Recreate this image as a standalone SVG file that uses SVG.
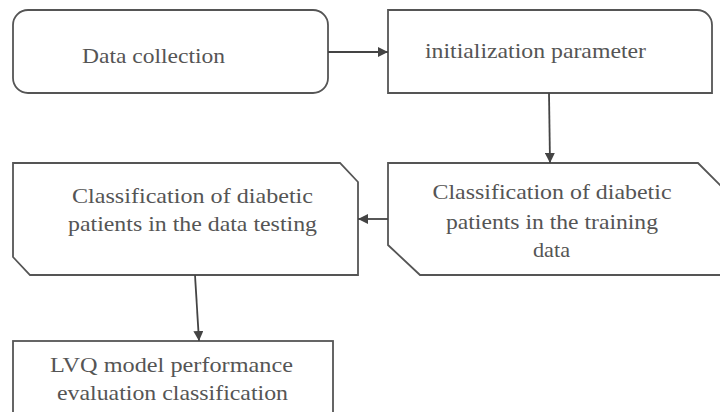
<svg xmlns="http://www.w3.org/2000/svg" width="720" height="412" viewBox="0 0 720 412">
<defs>
<style>
.box{fill:#ffffff;stroke:#555555;stroke-width:1.8}
.t{font-family:'Liberation Serif','DejaVu Serif',serif;font-size:22px;fill:#555555;text-anchor:middle}
.c{fill:none;stroke:#444444;stroke-width:1.8}
</style>
<marker id="ah" viewBox="0 0 10 10" refX="10" refY="5" markerWidth="10" markerHeight="10" markerUnits="userSpaceOnUse" orient="auto">
<path d="M0,0 L10,5 L0,10 Z" fill="#444444"/>
</marker>
</defs>
<rect width="720" height="412" fill="#ffffff"/>
<g id="n1">
<rect class="box" x="13" y="10" width="315" height="83" rx="15" ry="15"/>
<text class="t" font-family="Liberation Serif, serif" x="153.5" y="63" textLength="143" lengthAdjust="spacingAndGlyphs">Data collection</text>
</g>
<g id="n2">
<path class="box" d="M388,10 H697 A15,15 0 0 1 712,25 V93 H388 Z"/>
<text class="t" x="535.5" y="58" textLength="221" lengthAdjust="spacingAndGlyphs">initialization parameter</text>
</g>
<g id="n3">
<path class="box" d="M388,163 H698 L745,210 V275 H420 L388,245 Z"/>
<text class="t" x="552" y="199" textLength="239" lengthAdjust="spacingAndGlyphs">Classification of diabetic</text>
<text class="t" x="552" y="229" textLength="212" lengthAdjust="spacingAndGlyphs">patients in the training</text>
<text class="t" x="551.5" y="257" textLength="37" lengthAdjust="spacingAndGlyphs">data</text>
</g>
<g id="n4">
<path class="box" d="M13,163 H340 L358,182 V275 H30 L13,257 Z"/>
<text class="t" x="192.5" y="203" textLength="241" lengthAdjust="spacingAndGlyphs">Classification of diabetic</text>
<text class="t" x="192.5" y="231" textLength="249" lengthAdjust="spacingAndGlyphs">patients in the data testing</text>
</g>
<g id="n5">
<rect class="box" x="13" y="341" width="320" height="85"/>
<text class="t" x="171.5" y="372" textLength="243" lengthAdjust="spacingAndGlyphs">LVQ model performance</text>
<text class="t" x="172.5" y="400" textLength="231" lengthAdjust="spacingAndGlyphs">evaluation classification</text>
</g>
<g id="connectors">
<line class="c" x1="328" y1="52" x2="388" y2="52" marker-end="url(#ah)"/>
<line class="c" x1="549" y1="93" x2="550" y2="163" marker-end="url(#ah)"/>
<line class="c" x1="388" y1="219" x2="358" y2="219" marker-end="url(#ah)"/>
<line class="c" x1="195" y1="275" x2="199" y2="341" marker-end="url(#ah)"/>
</g>
</svg>
